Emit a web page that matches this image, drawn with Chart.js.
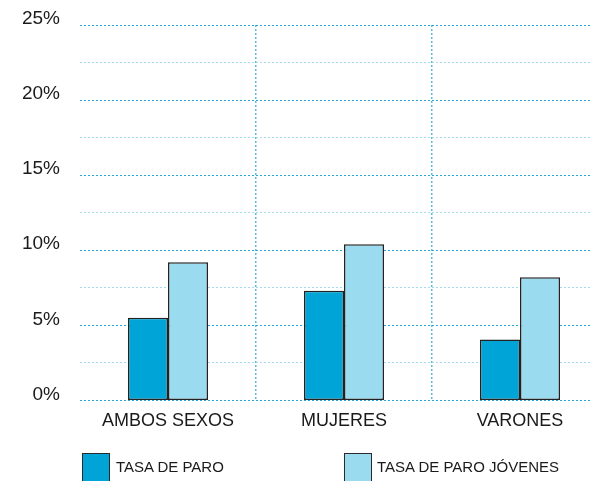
<!DOCTYPE html>
<html>
<head>
<meta charset="utf-8">
<script src="https://cdn.jsdelivr.net/npm/chart.js@4"></script>
<style>
  html, body { margin: 0; padding: 0; background: #fff; overflow: hidden; }
  #wrap { position: relative; width: 620px; height: 481px; }
  .legend-item { position: absolute; top: 453px; font-family: "Liberation Sans", Arial, sans-serif; font-size: 15px; color: #1a1a1a; }
  .legend-item .box { position: absolute; left: 0; top: 0; width: 26px; height: 30px; border: 1.5px solid #2a2a2a; }
  .legend-item .txt { position: absolute; top: 5px; white-space: nowrap; }
</style>
</head>
<body>
<div id="wrap">
  <canvas id="myChart" width="620" height="481"></canvas>
  <div class="legend-item" style="left:82px"><div class="box" style="background:#00a4d6"></div><span class="txt" style="left:34px">TASA DE PARO</span></div>
  <div class="legend-item" style="left:344px"><div class="box" style="background:#9adbef"></div><span class="txt" style="left:33px">TASA DE PARO JÓVENES</span></div>
</div>
<script>
const categories = ['AMBOS SEXOS', 'MUJERES', 'VARONES'];
const tasaParo = [5.5, 7.3, 4.05];
const tasaParoJovenes = [9.2, 10.4, 8.2];
const yTicks = [0, 5, 10, 15, 20, 25];

const ctx = document.getElementById('myChart');

new Chart(ctx, {
    type: 'bar',
    data: {
        labels: categories,
        datasets: [{
            label: 'TASA DE PARO',
            data: tasaParo,
            backgroundColor: '#00a4d6',
            borderColor: '#222',
            borderWidth: 1.5,
            borderSkipped: false
        }, {
            label: 'TASA DE PARO JÓVENES',
            data: tasaParoJovenes,
            backgroundColor: '#9adbef',
            borderColor: '#222',
            borderWidth: 1.5,
            borderSkipped: false
        }]
    },
    options: {
        responsive: false,
        animation: false,
        layout: { padding: { top: 25, right: 12, bottom: 39, left: 0 } },
        datasets: { bar: { categoryPercentage: 80 / 176, barPercentage: 1 } },
        plugins: {
            legend: { display: false },
            tooltip: { enabled: false }
        },
        scales: {
            x: {
                border: { display: false, dash: [2, 2] },
                grid: {
                    offset: true,
                    drawTicks: false,
                    color: (c) => c.index === 0 ? 'rgba(0,0,0,0)' : '#55bfe4',
                    lineWidth: 1.5
                },
                ticks: {
                    padding: 10,
                    color: '#1a1a1a',
                    font: { family: 'Liberation Sans', size: 18 }
                }
            },
            y: {
                min: 0,
                max: 25,
                border: { display: false, dash: [2, 2] },
                afterFit: (scale) => {
                    scale.width = 80;
                    scale.paddingTop = 0;
                    scale.paddingBottom = 0;
                },
                grid: {
                    drawTicks: false,
                    color: (c) => yTicks.includes(c.tick.value) ? '#2aa8d6' : '#a6dcef',
                    lineWidth: 1
                },
                ticks: {
                    stepSize: 2.5,
                    padding: 20,
                    labelOffset: -6,
                    color: '#1a1a1a',
                    font: { family: 'Liberation Sans', size: 19 },
                    callback: (v) => yTicks.includes(v) ? v + '%' : ''
                }
            }
        }
    }
});
</script>
</body>
</html>
